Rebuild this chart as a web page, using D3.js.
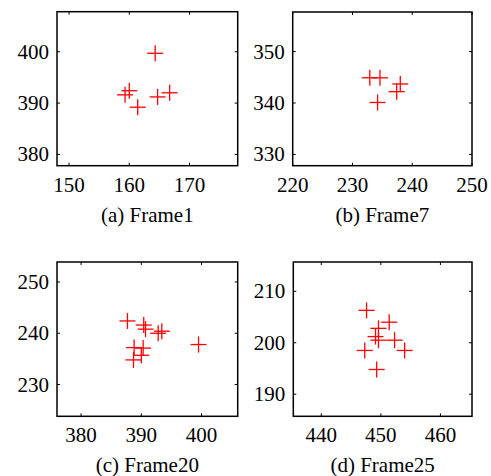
<!DOCTYPE html>
<html>
<head>
<meta charset="utf-8">
<script src="https://cdn.jsdelivr.net/npm/d3@7"></script>
</head>
<body style="margin:0">
<svg id="chart" width="491" height="476"></svg>
<script>
const captions = ["(a) Frame1", "(b) Frame7", "(c) Frame20", "(d) Frame25"];

// axis domains and ticks
const xDomains = [[148, 178], [220, 250], [376, 406], [435.3, 465.3]];
const yDomains = [[377.8, 407.8], [327.8, 357.7], [223.8, 253.9], [185.7, 215.7]];
const xTicks = [[150, 160, 170], [220, 230, 240, 250], [380, 390, 400], [440, 450, 460]];
const yTicks = [[380, 390, 400], [330, 340, 350], [230, 240, 250], [190, 200, 210]];

// tracked points per frame
const frame1X = [164.3, 160.0, 159.3, 161.4, 164.7, 166.7];
const frame1Y = [399.7, 392.4, 391.6, 389.2, 391.2, 392.0];
const frame7X = [232.9, 234.6, 234.2, 238.0, 237.4];
const frame7Y = [344.9, 344.9, 340.1, 343.7, 342.2];
const frame20X = [387.7, 390.4, 390.7, 392.8, 393.4, 399.5, 388.8, 390.3, 390.0, 388.7];
const frame20Y = [242.4, 241.6, 240.8, 240.0, 240.4, 237.8, 237.2, 237.1, 235.7, 234.8];
const frame25X = [447.6, 451.4, 449.6, 449.1, 449.6, 452.3, 447.3, 454.0, 449.3];
const frame25Y = [206.3, 204.0, 202.8, 201.2, 200.5, 200.5, 198.5, 198.5, 194.8];

const xs = [frame1X, frame7X, frame20X, frame25X];
const ys = [frame1Y, frame7Y, frame20Y, frame25Y];

// plot boxes
const boxes = [
  { left: 57, top: 11.7, w: 180.7, h: 154 },
  { left: 292.7, top: 12, w: 179.3, h: 153.7 },
  { left: 57, top: 262, w: 180.7, h: 154.3 },
  { left: 293.3, top: 262, w: 178.7, h: 154.3 }
];

const svg = d3.select("#chart");
const tickLen = 3;
const armLen = 8;

// text goes straight on the svg, positioned in page coordinates
function addText(px, py, str, anchor) {
  return svg.append("text").attr("x", px).attr("y", py)
    .style("font-family", '"Tinos", "FreeSerif", "Nimbus Roman", "Liberation Serif"')
    .style("font-size", "21px")
    .attr("text-anchor", anchor).text(str);
}

boxes.forEach((b, i) => {
  const x = d3.scaleLinear().domain(xDomains[i]).range([b.left, b.left + b.w]);
  const y = d3.scaleLinear().domain(yDomains[i]).range([b.top + b.h, b.top]);
  const bottom = b.top + b.h, right = b.left + b.w;

  // inward ticks on all four sides
  const tickStyle = sel => sel.attr("stroke", "#000").attr("stroke-width", 1);
  xTicks[i].forEach(t => {
    svg.append("line").attr("x1", x(t)).attr("x2", x(t)).attr("y1", bottom).attr("y2", bottom - tickLen).call(tickStyle);
    svg.append("line").attr("x1", x(t)).attr("x2", x(t)).attr("y1", b.top).attr("y2", b.top + tickLen).call(tickStyle);
    addText(x(t), bottom + 26, t, "middle");
  });
  yTicks[i].forEach(t => {
    svg.append("line").attr("x1", b.left).attr("x2", b.left + tickLen).attr("y1", y(t)).attr("y2", y(t)).call(tickStyle);
    svg.append("line").attr("x1", right).attr("x2", right - tickLen).attr("y1", y(t)).attr("y2", y(t)).call(tickStyle);
    addText(b.left - 8, y(t) + 7, t, "end");
  });

  svg.append("rect").attr("x", b.left).attr("y", b.top).attr("width", b.w).attr("height", b.h)
    .attr("fill", "none").attr("stroke", "#000").attr("stroke-width", 1.5);

  // "+" markers
  const pts = d3.zip(xs[i], ys[i]);
  const marks = svg.append("g").attr("stroke", "#ff0000").attr("stroke-width", 1.3);
  pts.forEach(([px, py]) => {
    marks.append("line").attr("x1", x(px) - armLen).attr("x2", x(px) + armLen)
      .attr("y1", y(py)).attr("y2", y(py));
    marks.append("line").attr("x1", x(px)).attr("x2", x(px))
      .attr("y1", y(py) - armLen).attr("y2", y(py) + armLen);
  });

  addText(b.left + b.w / 2, bottom + 56, captions[i], "middle");
});
</script>
</body>
</html>
